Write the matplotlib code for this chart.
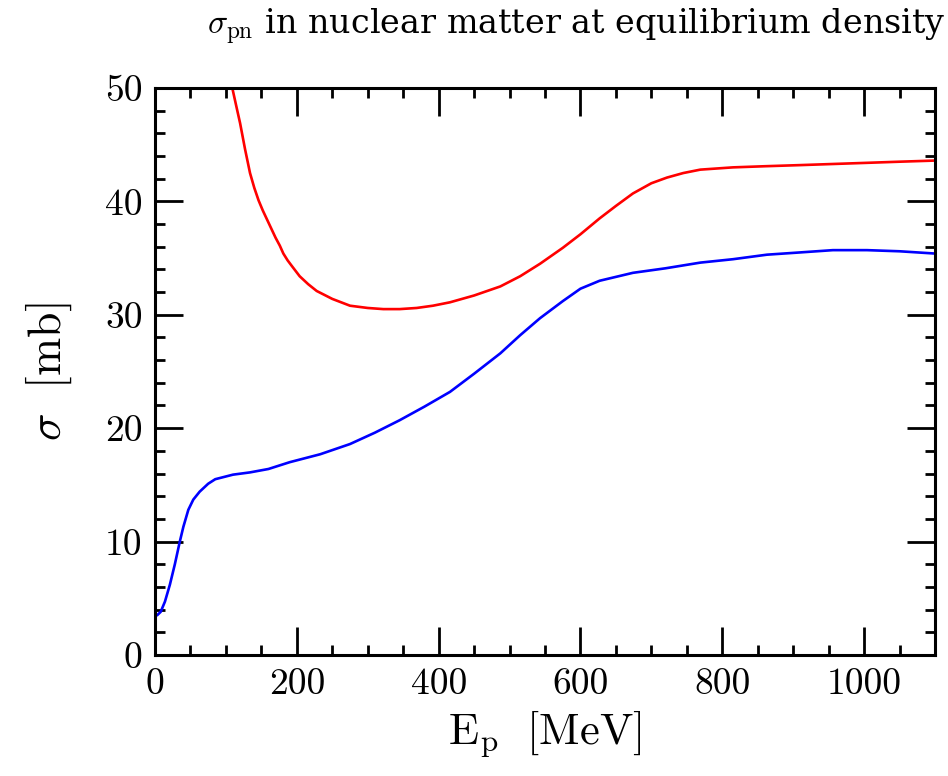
import matplotlib
matplotlib.use('Agg')
import matplotlib.pyplot as plt
from matplotlib.ticker import MultipleLocator

# sigma_pn, blue curve
e_blue = [0, 3, 8, 14, 21, 28, 35, 40, 47, 54, 63, 75, 85, 110, 134, 160, 190, 233, 275,
          310, 345, 380, 416, 450, 487, 515, 543, 575, 600, 627, 674, 720, 769, 815, 863,
          910, 956, 1004, 1050, 1100]
s_blue = [3.6, 3.5, 3.8, 4.7, 6.2, 8.0, 10.0, 11.3, 12.8, 13.7, 14.4, 15.1, 15.5, 15.9, 16.1,
          16.4, 17.0, 17.7, 18.6, 19.6, 20.7, 21.9, 23.2, 24.8, 26.6, 28.2, 29.7, 31.2, 32.3,
          33.0, 33.7, 34.1, 34.6, 34.9, 35.3, 35.5, 35.7, 35.7, 35.6, 35.4]

# red curve
e_red = [109, 115, 120, 127, 134, 140, 146, 152, 158, 164, 170, 176, 181, 187, 193, 204, 216,
         228, 250, 275, 300, 322, 345, 369, 392, 416, 450, 487, 515, 543, 575, 600, 627, 650,
         674, 700, 722, 745, 769, 815, 860, 910, 1004, 1050, 1100]
s_red = [50.0, 48.3, 46.9, 44.6, 42.5, 41.2, 40.1, 39.2, 38.4, 37.6, 36.8, 36.1, 35.4, 34.8,
         34.3, 33.4, 32.7, 32.1, 31.4, 30.8, 30.6, 30.5, 30.5, 30.6, 30.8, 31.1, 31.7, 32.5,
         33.4, 34.5, 35.9, 37.1, 38.5, 39.6, 40.7, 41.6, 42.1, 42.5, 42.8, 43.0, 43.1, 43.2,
         43.4, 43.5, 43.6]

plt.rcParams['mathtext.fontset'] = 'cm'

fig = plt.figure(figsize=(9.48, 7.76), dpi=100)
ax = fig.add_axes([0.1635, 0.156, 0.8228, 0.7306])

ax.plot(e_blue, s_blue, color='blue', lw=1.9)
ax.plot(e_red, s_red, color='red', lw=1.9)

ax.set_xlim(0, 1100)
ax.set_ylim(0, 50)
ax.xaxis.set_major_locator(MultipleLocator(200))
ax.xaxis.set_minor_locator(MultipleLocator(50))
ax.yaxis.set_major_locator(MultipleLocator(10))
ax.yaxis.set_minor_locator(MultipleLocator(2))
ax.tick_params(which='both', direction='in', top=True, right=True, width=2, color='black')
ax.tick_params(which='major', length=20, labelsize=27, pad=9)
ax.tick_params(which='minor', length=7)
for s in ax.spines.values():
    s.set_linewidth(2.2)
for lab in ax.get_xticklabels() + ax.get_yticklabels():
    lab.set_fontfamily('cmr10')

ax.set_xlabel(r'$\mathrm{E_p\ \ [MeV]}$', fontsize=32, labelpad=6)
ax.set_ylabel(r'$\sigma\ \ \mathrm{[mb]}$', fontsize=33, labelpad=22)

fig.text(0.997, 0.965, r'$\sigma_{\rm pn}$ in nuclear matter at equilibrium density',
         ha='right', va='center', fontsize=24, family='DejaVu Serif')

fig.savefig('out.png', dpi=100)
